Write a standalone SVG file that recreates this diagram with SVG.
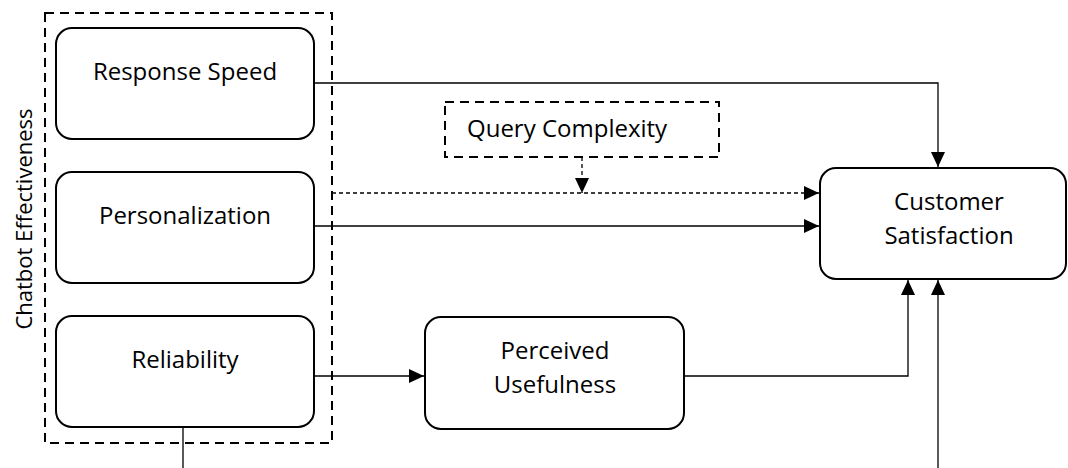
<svg xmlns="http://www.w3.org/2000/svg" width="1068" height="468" viewBox="0 0 1068 468">
  <defs>
    <marker id="arrow" viewBox="0 0 15 14" refX="15" refY="7" markerWidth="15" markerHeight="14" markerUnits="userSpaceOnUse" orient="auto">
      <path d="M0,0 L15,7 L0,14 Z" fill="#000"/>
    </marker>
    <style>
      .box { fill: #fff; stroke: #000; stroke-width: 2; }
      .group { fill: none; stroke: #000; stroke-width: 2; stroke-dasharray: 9 6; }
      .label { font-family: "Open Sans", "Noto Sans", sans-serif; font-size: 24px; fill: #000; }
      .side { font-size: 22px; }
      .edge { fill: none; stroke: #000; stroke-width: 1.3; }
      .dashed { stroke-dasharray: 4 3; }
    </style>
  </defs>
  <rect width="1068" height="468" fill="#fff"/>

  <!-- construct grouping: Chatbot Effectiveness -->
  <g id="chatbot-effectiveness">
    <rect class="group" x="45" y="13" width="287" height="430"/>
    <text class="label side" transform="translate(32,219) rotate(-90)" text-anchor="middle">Chatbot Effectiveness</text>
  </g>

  <!-- connectors -->
  <g id="connectors">
    <path class="edge" d="M314,83 H938 V167" marker-end="url(#arrow)"/>
    <path class="edge dashed" d="M332,193 H819" marker-end="url(#arrow)"/>
    <path class="edge dashed" d="M582,157 V193" marker-end="url(#arrow)"/>
    <path class="edge" d="M314,226 H819" marker-end="url(#arrow)"/>
    <path class="edge" d="M314,376 H424" marker-end="url(#arrow)"/>
    <path class="edge" d="M684,376 H908 V280" marker-end="url(#arrow)"/>
    <path class="edge" d="M183,428 V500 H938 V280" marker-end="url(#arrow)"/>
  </g>

  <g id="response-speed">
    <rect class="box" x="56" y="28" width="258" height="111" rx="16"/>
    <text class="label" x="185" y="80" text-anchor="middle">Response Speed</text>
  </g>

  <g id="personalization">
    <rect class="box" x="56" y="172" width="258" height="111" rx="16"/>
    <text class="label" x="185" y="224" text-anchor="middle">Personalization</text>
  </g>

  <g id="reliability">
    <rect class="box" x="56" y="316" width="258" height="111" rx="16"/>
    <text class="label" x="185" y="368" text-anchor="middle">Reliability</text>
  </g>

  <g id="query-complexity">
    <rect class="group" x="445" y="102" width="274" height="55"/>
    <text class="label" x="467" y="137">Query Complexity</text>
  </g>

  <g id="perceived-usefulness">
    <rect class="box" x="425" y="317" width="259" height="112" rx="16"/>
    <text class="label" x="555" y="359" text-anchor="middle">Perceived</text>
    <text class="label" x="555" y="393" text-anchor="middle">Usefulness</text>
  </g>

  <g id="customer-satisfaction">
    <rect class="box" x="820" y="168" width="246" height="111" rx="16"/>
    <text class="label" x="949" y="210" text-anchor="middle">Customer</text>
    <text class="label" x="949" y="244" text-anchor="middle">Satisfaction</text>
  </g>
</svg>
